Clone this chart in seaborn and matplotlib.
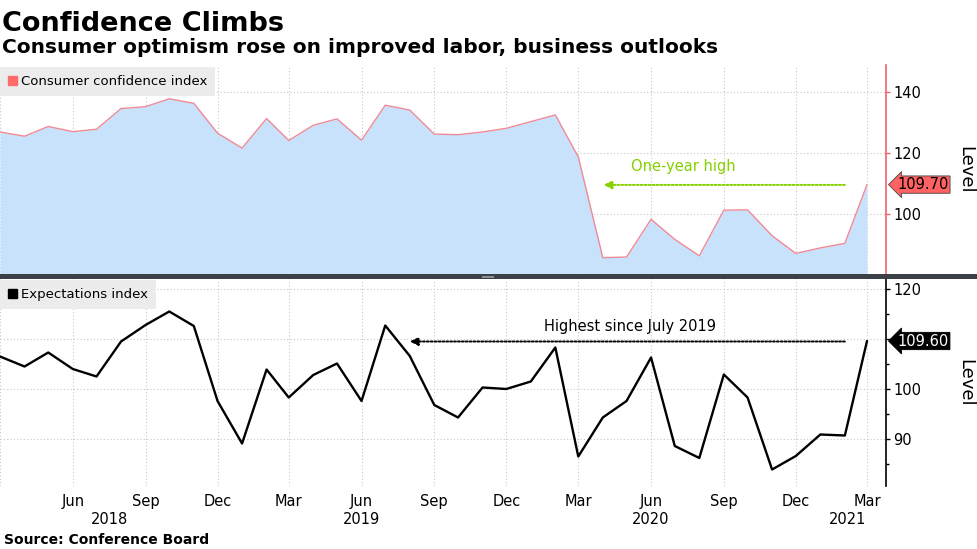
import numpy as np
import pandas as pd
import matplotlib
matplotlib.use("Agg")
import matplotlib.pyplot as plt
import matplotlib.dates as mdates
import matplotlib.transforms as mtransforms
from matplotlib.patches import Patch, Rectangle
import seaborn as sns

# monthly data, Mar 2018 - Mar 2021
months = pd.date_range("2018-03-01", periods=37, freq="MS")
confidence = [127.0, 125.6, 128.8, 127.1, 127.9, 134.7, 135.3, 137.9, 136.4, 126.6,
              121.7, 131.4, 124.2, 129.2, 131.3, 124.3, 135.8, 134.2, 126.3, 126.1,
              127.0, 128.2, 130.4, 132.6, 118.8, 85.7, 85.9, 98.3, 91.7, 86.3,
              101.3, 101.4, 92.9, 87.1, 88.9, 90.4, 109.7]
expectations = [106.5, 104.5, 107.3, 104.0, 102.5, 109.5, 112.8, 115.5, 112.6, 97.6,
                89.1, 103.9, 98.3, 102.8, 105.1, 97.6, 112.7, 106.6, 96.8, 94.3,
                100.3, 100.0, 101.5, 108.3, 86.5, 94.3, 97.6, 106.3, 88.6, 86.2,
                102.9, 98.3, 83.9, 86.6, 90.9, 90.7, 109.6]
year_labels = ["2018", "2019", "2020", "2021"]
year_pos = pd.to_datetime(["2018-07-17", "2019-06-01", "2020-06-01", "2021-02-05"])

df = pd.DataFrame({"month": months, "confidence": confidence, "expectations": expectations})

sns.set_style("white")
plt.rcParams["font.family"] = ["DejaVu Sans"]
plt.rcParams["text.color"] = "black"
plt.rcParams["axes.labelcolor"] = "black"

fig = plt.figure(figsize=(9.77, 5.49), dpi=100)
W, H = 977, 549

def fx(px):
    return px / W

def fy(py):
    return 1 - py / H

ax1 = fig.add_axes([0, fy(275), fx(886), fy(65) - fy(275)])
ax2 = fig.add_axes([0, fy(486), fx(886), fy(279) - fy(486)])

xmin = pd.Timestamp("2018-03-01")
xmax = pd.Timestamp("2021-03-25")

# --- top panel: consumer confidence area
ax1.fill_between(df["month"], df["confidence"], 0, color="#c9e2fc", lw=0, zorder=1)
sns.lineplot(data=df, x="month", y="confidence", ax=ax1, color="#f08a96", lw=1.0, zorder=2)
ax1.set_ylim(80.5, 149)

# --- bottom panel: expectations line
sns.lineplot(data=df, x="month", y="expectations", ax=ax2, color="black", lw=1.7, zorder=2)
ax2.set_ylim(80.6, 122)

for ax, col in [(ax1, "#f0606a"), (ax2, "black")]:
    ax.set_xlim(xmin, xmax)
    ax.xaxis.set_major_locator(mdates.MonthLocator(bymonth=[3, 6, 9, 12]))
    ax.xaxis.set_major_formatter(mdates.DateFormatter("%b"))
    ax.yaxis.tick_right()
    ax.grid(True, color="#c8c8c8", ls=(0, (1, 2)), lw=0.8)
    for s in ["top", "left", "bottom"]:
        ax.spines[s].set_visible(False)
    ax.spines["right"].set_color(col)
    ax.spines["right"].set_linewidth(1.2)
    ax.tick_params(axis="y", which="both", colors=col, labelcolor="black",
                   labelsize=10.5, length=3, width=1, pad=2)
    ax.tick_params(axis="x", length=0, labelsize=10.5, pad=6, labelcolor="black")
    ax.set_xlabel("")
    ax.set_ylabel("Level", rotation=270, fontsize=13, va="center", ha="center")
    ax.yaxis.set_label_coords(1.09, 0.5)

ax1.set_yticks([100, 120, 140])
ax1.set_yticks([80], minor=True)
ax1.tick_params(axis="x", labelbottom=False)
ax2.set_yticks([90, 100, 110, 120])
ax2.set_yticklabels(["90", "100", "", "120"])
ax2.set_yticks([85, 95, 105, 115], minor=True)
ax2.tick_params(axis="y", which="minor", length=2)
# first tick at Mar 2018 has no label
ax2.xaxis.set_major_formatter(
    matplotlib.ticker.FuncFormatter(
        lambda v, p: "" if mdates.num2date(v).year == 2018 and mdates.num2date(v).month == 3
        else mdates.num2date(v).strftime("%b")))

trans2 = mtransforms.blended_transform_factory(ax2.transData, ax2.transAxes)
for lab, pos in zip(year_labels, year_pos):
    ax2.text(pos, -0.16, lab, transform=trans2, ha="center", va="center", fontsize=10.5)

# legends
leg1 = ax1.legend(handles=[Patch(color="#ff6a6a", label="Consumer confidence index")],
                  loc="upper left", bbox_to_anchor=(0, 0.99), borderaxespad=0,
                  frameon=True, fancybox=False, fontsize=9.5, handlelength=0.7,
                  handleheight=0.7, handletextpad=0.3, borderpad=0.6)
leg1.get_frame().set_facecolor("#ececec")
leg1.get_frame().set_edgecolor("none")
leg1.get_frame().set_alpha(1)
leg2 = ax2.legend(handles=[Patch(color="black", label="Expectations index")],
                  loc="upper left", bbox_to_anchor=(0, 0.995), borderaxespad=0,
                  frameon=True, fancybox=False, fontsize=9.5, handlelength=0.7,
                  handleheight=0.7, handletextpad=0.3, borderpad=0.6)
leg2.get_frame().set_facecolor("#ececec")
leg2.get_frame().set_edgecolor("none")
leg2.get_frame().set_alpha(1)

# value tags on the right axis
tr1 = mtransforms.blended_transform_factory(ax1.transAxes, ax1.transData)
ax1.text(1.013, confidence[-1], f"{confidence[-1]:.2f}", transform=tr1, ha="left", va="center",
         fontsize=10.5, color="black",
         bbox=dict(boxstyle="larrow,pad=0.08", fc="#ff6262", ec="#444444", lw=0.6))
tr2 = mtransforms.blended_transform_factory(ax2.transAxes, ax2.transData)
ax2.text(1.013, expectations[-1], f"{expectations[-1]:.2f}", transform=tr2, ha="left", va="center",
         fontsize=10.5, color="white",
         bbox=dict(boxstyle="larrow,pad=0.08", fc="black", ec="black", lw=0.6))

# annotations
ax1.annotate("", xy=(pd.Timestamp("2020-04-02"), 109.6), xytext=(pd.Timestamp("2021-02-01"), 109.6),
             arrowprops=dict(arrowstyle="-|>", ls=(0, (1, 1)), color="#86d000", lw=1.4,
                             mutation_scale=12, shrinkA=0, shrinkB=0))
ax1.text(pd.Timestamp("2020-07-12"), 115.5, "One-year high", color="#86d000", fontsize=10.5,
         ha="center", va="center")
ax2.annotate("", xy=(pd.Timestamp("2019-08-01"), 109.5), xytext=(pd.Timestamp("2021-02-01"), 109.5),
             arrowprops=dict(arrowstyle="-|>", ls=(0, (1, 1)), color="black", lw=1.4,
                             mutation_scale=12, shrinkA=0, shrinkB=0))
ax2.text(pd.Timestamp("2020-05-05"), 112.6, "Highest since July 2019", color="black",
         fontsize=10.5, ha="center", va="center")

# divider between panels
fig.add_artist(Rectangle((0, fy(279)), 1, fy(274) - fy(279), transform=fig.transFigure,
                         color="#3b4046", lw=0, zorder=10))
fig.add_artist(Rectangle((fx(482), fy(278)), fx(12), fy(276) - fy(278), transform=fig.transFigure,
                         color="#8a8e93", lw=0, zorder=11))

# titles and source
fig.text(fx(2), fy(31), "Confidence Climbs", fontsize=19.5, fontweight="bold", ha="left",
         va="baseline")
fig.text(fx(2), fy(53), "Consumer optimism rose on improved labor, business outlooks",
         fontsize=14.5, fontweight="bold", ha="left", va="baseline")
fig.text(fx(4), fy(544), "Source: Conference Board", fontsize=10, fontweight="bold",
         ha="left", va="baseline")

fig.savefig("out.png", dpi=100)
